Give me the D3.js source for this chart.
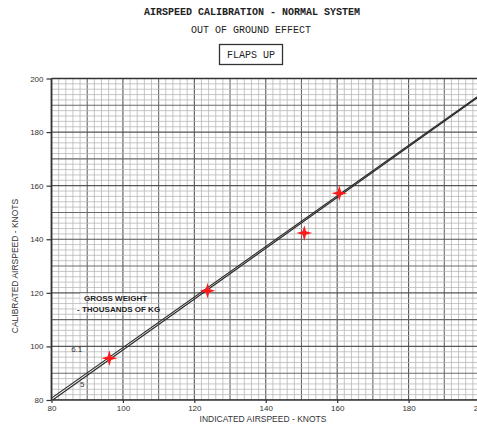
<!DOCTYPE html>
<html>
<head>
<meta charset="utf-8">
<script src="https://cdn.jsdelivr.net/npm/d3@7"></script>
<style>
  body { margin: 0; background: #fff; }
  svg { display: block; }
</style>
</head>
<body>
<script>
// values
const xTicks = [80, 100, 120, 140, 160, 180, 200];
const yTicks = [80, 100, 120, 140, 160, 180, 200];
const lineIAS = [80, 200];
const line61 = [80.7, 193.9];   // gross weight 6.1
const line5 = [79.7, 193.5];    // gross weight 5
const testIAS = [96.2, 123.7, 150.8, 160.6];
const testCAS = [95.6, 120.8, 142.3, 157.2];

function main() {
    var width = 477;
    var height = 425;

    let svg = d3.select("body")
        .append("svg")
        .attr("width", width)
        .attr("height", height)
        .style("font-family", "'Liberation Sans', Arial, sans-serif");

    let x = d3.scaleLinear().domain([80, 200]).range([51.5, 480]);
    let y = d3.scaleLinear().domain([80, 200]).range([400, 78.5]);

    svg.append("defs").append("clipPath").attr("id", "plot")
        .append("rect")
        .attr("x", x(80)).attr("y", y(200))
        .attr("width", width - x(80)).attr("height", y(80) - y(200));

    const g = svg.append("g").attr("clip-path", "url(#plot)");

    // graph paper grid
    let gx = x.ticks(60), gy = y.ticks(60);
    function gridColor(v) {
        if (v % 20 === 0) return "#555";
        if (v % 10 === 0) return "#6a6a6a";
        return "#b8b8b8";
    }
    function gridWidth(v) {
        if (v % 10 === 0) return 1.1;
        return 0.8;
    }
    g.selectAll(".vgrid").data(gx).enter().append("line")
        .attr("x1", d => x(d)).attr("x2", d => x(d))
        .attr("y1", y(200)).attr("y2", y(80))
        .attr("stroke", gridColor).attr("stroke-width", gridWidth);
    g.selectAll(".hgrid").data(gy).enter().append("line")
        .attr("x1", x(80)).attr("x2", width)
        .attr("y1", d => y(d)).attr("y2", d => y(d))
        .attr("stroke", gridColor).attr("stroke-width", gridWidth);

    // calibration lines
    let lineGen = d3.line().x(d => x(d[0])).y(d => y(d[1]));
    [line5, line61].forEach(function (ys) {
        g.append("path")
            .datum(lineIAS.map((v, i) => [v, ys[i]]))
            .attr("d", lineGen)
            .attr("fill", "none")
            .attr("stroke", "#2a2a2a")
            .attr("stroke-width", 1.2);
    });

    // frame
    svg.append("line").attr("x1", x(80)).attr("x2", width)
        .attr("y1", y(200)).attr("y2", y(200))
        .attr("stroke", "#333").attr("stroke-width", 1.6);
    svg.append("line").attr("x1", x(80)).attr("x2", width)
        .attr("y1", y(80)).attr("y2", y(80))
        .attr("stroke", "#333").attr("stroke-width", 1.6);
    svg.append("line").attr("x1", x(80)).attr("x2", x(80))
        .attr("y1", y(200)).attr("y2", y(80))
        .attr("stroke", "#333").attr("stroke-width", 1.8);

    // axes
    let xAxis = svg.append("g")
        .attr("transform", `translate(0,${y(80)})`)
        .call(d3.axisBottom(x).tickValues(xTicks).tickSize(3).tickPadding(2));
    let yAxis = svg.append("g")
        .attr("transform", `translate(${x(80)},0)`)
        .call(d3.axisLeft(y).tickValues(yTicks).tickSize(5).tickPadding(3));
    [xAxis, yAxis].forEach(function (a) {
        a.select(".domain").remove();
        a.selectAll(".tick line").attr("stroke", "#333").attr("stroke-width", 1.2);
        a.selectAll("text")
            .attr("fill", "#333")
            .attr("font-size", 8)
            .attr("font-family", "'Liberation Sans', Arial, sans-serif");
    });

    // weight labels
    svg.append("text").attr("x", x(85.5)).attr("y", y(97.8))
        .attr("font-size", 8).attr("fill", "#333").text("6.1");
    svg.append("text").attr("x", x(88)).attr("y", y(85))
        .attr("font-size", 8).attr("fill", "#333").text("5");

    let lab = svg.append("g");
    lab.append("rect").attr("x", 80).attr("y", 293).attr("width", 62).attr("height", 9).attr("fill", "#fff").attr("opacity", 0.6);
    lab.append("rect").attr("x", 76).attr("y", 304).attr("width", 78).attr("height", 9).attr("fill", "#fff").attr("opacity", 0.6);
    lab.append("text").attr("x", 84).attr("y", 301)
        .attr("font-size", 8).attr("font-weight", "bold").attr("fill", "#222")
        .text("GROSS WEIGHT");
    lab.append("text").attr("x", 77).attr("y", 312)
        .attr("font-size", 8).attr("font-weight", "bold").attr("fill", "#222")
        .text("- THOUSANDS OF KG");

    // red test points
    const star4 = {
        draw(context, size) {
            let r = Math.sqrt(size) * 0.75, w = r * 0.22;
            context.moveTo(0, -r);
            context.lineTo(w, -w);
            context.lineTo(r, 0);
            context.lineTo(w, w);
            context.lineTo(0, r);
            context.lineTo(-w, w);
            context.lineTo(-r, 0);
            context.lineTo(-w, -w);
            context.closePath();
        }
    };
    svg.selectAll(".pt").data(testIAS).enter().append("path")
        .attr("d", d3.symbol().type(star4).size(110))
        .attr("transform", (d, i) => `translate(${x(d)},${y(testCAS[i])})`)
        .attr("fill", "#ff1a1a");

    // axis titles
    svg.append("text")
        .attr("x", 263).attr("y", 422)
        .attr("text-anchor", "middle")
        .attr("font-size", 8.5).attr("fill", "#333")
        .text("INDICATED AIRSPEED - KNOTS");
    svg.append("text")
        .attr("transform", "translate(18,266) rotate(-90)")
        .attr("text-anchor", "middle")
        .attr("font-size", 8.5).attr("fill", "#333")
        .text("CALIBRATED AIRSPEED - KNOTS");

    // titles
    const mono = "'Liberation Mono', 'DejaVu Sans Mono', monospace";
    svg.append("text").attr("x", 252).attr("y", 15)
        .attr("text-anchor", "middle").attr("font-family", mono)
        .attr("font-size", 10).attr("font-weight", "bold").attr("fill", "#222")
        .text("AIRSPEED CALIBRATION - NORMAL SYSTEM");
    svg.append("text").attr("x", 251).attr("y", 33)
        .attr("text-anchor", "middle").attr("font-family", mono)
        .attr("font-size", 10).attr("fill", "#222")
        .text("OUT OF GROUND EFFECT");
    svg.append("rect").attr("x", 219.5).attr("y", 44.5)
        .attr("width", 63).attr("height", 20)
        .attr("fill", "none").attr("stroke", "#333").attr("stroke-width", 1.3);
    svg.append("text").attr("x", 251).attr("y", 58)
        .attr("text-anchor", "middle").attr("font-family", mono)
        .attr("font-size", 10).attr("fill", "#222")
        .text("FLAPS UP");
}

main()
</script>
</body>
</html>
